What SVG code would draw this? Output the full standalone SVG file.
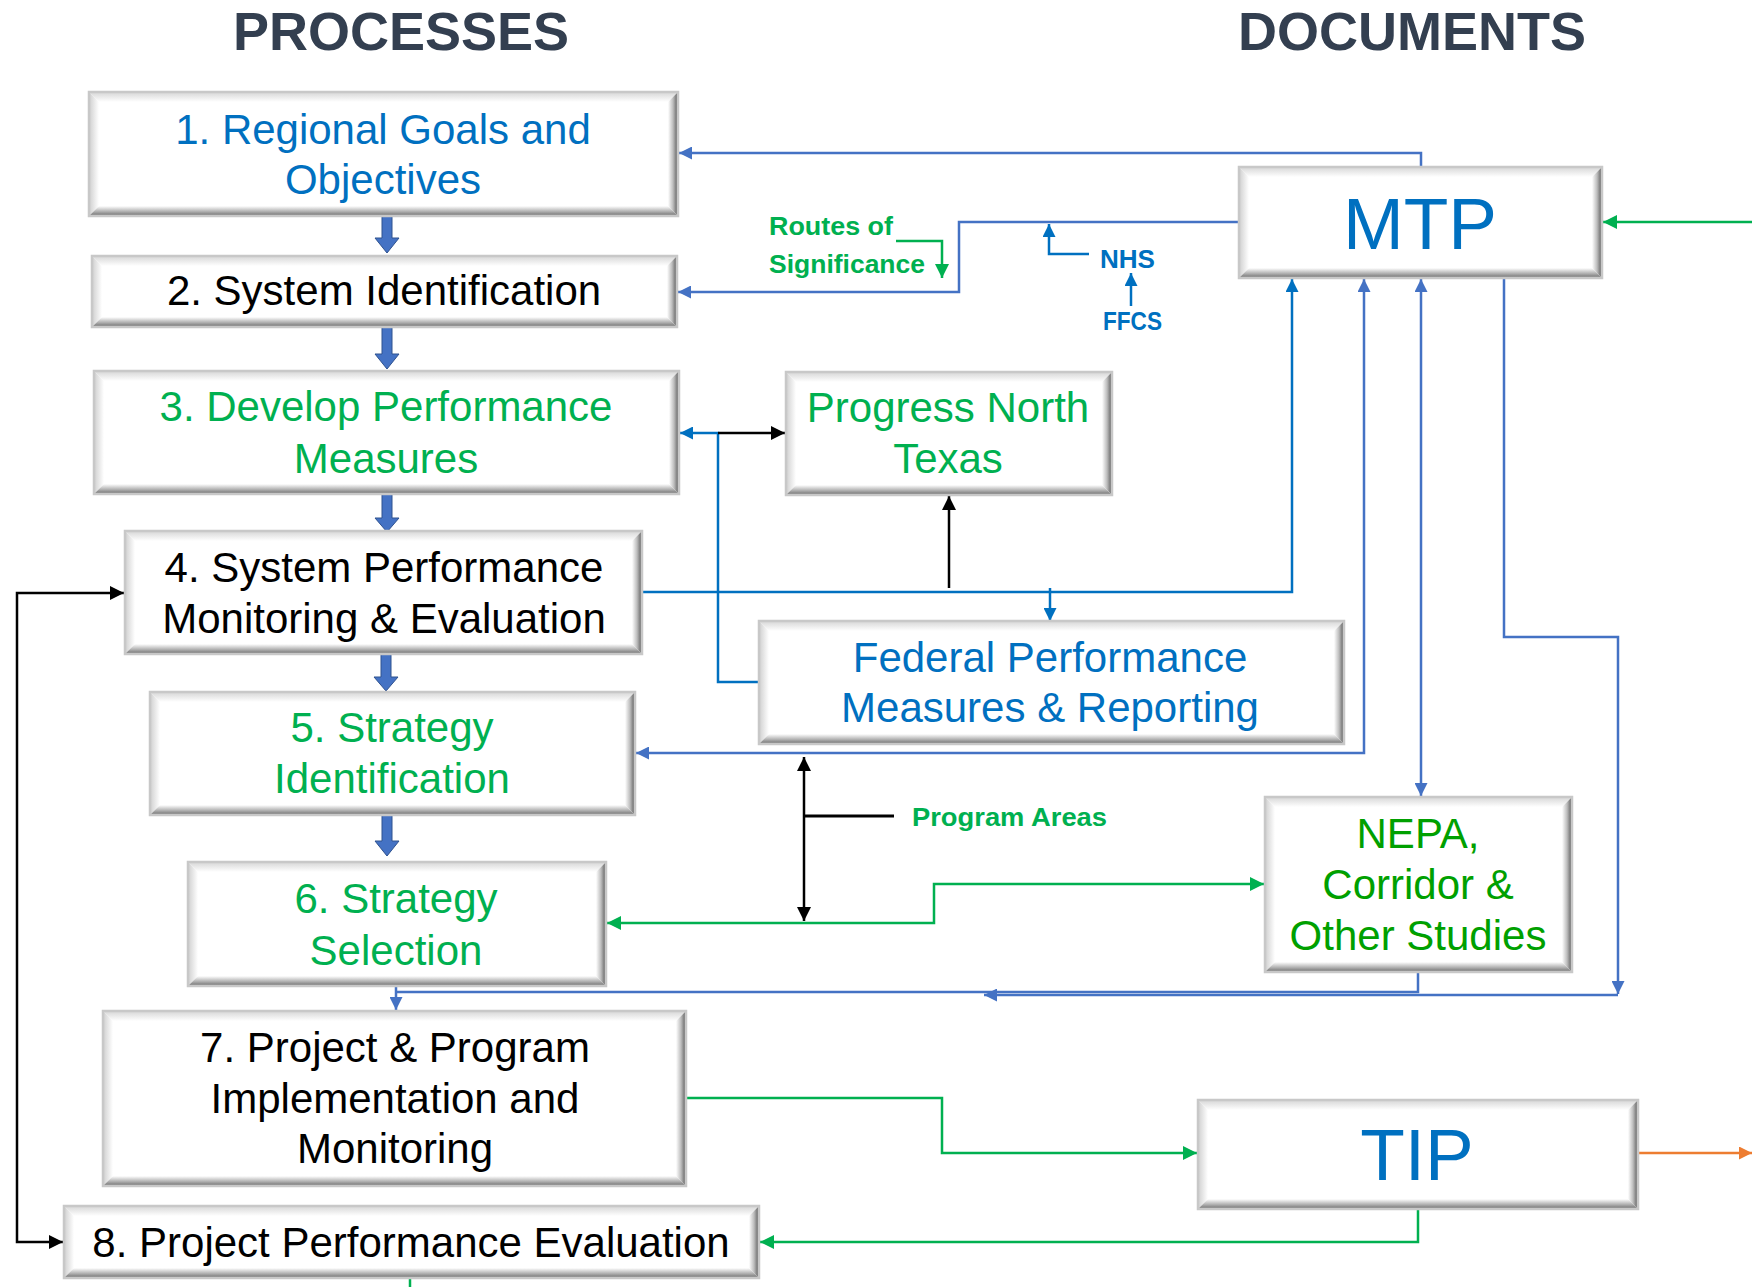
<svg xmlns="http://www.w3.org/2000/svg" width="1752" height="1287" viewBox="0 0 1752 1287">
<defs>
<linearGradient id="gTop" x1="0" y1="0" x2="0" y2="1"><stop offset="0" stop-color="#D6D6D6"/><stop offset="1" stop-color="#FFFFFF"/></linearGradient>
<linearGradient id="gLeft" x1="0" y1="0" x2="1" y2="0"><stop offset="0" stop-color="#CFCFCF"/><stop offset="1" stop-color="#FFFFFF"/></linearGradient>
<linearGradient id="gRight" x1="0" y1="0" x2="1" y2="0"><stop offset="0" stop-color="#FFFFFF"/><stop offset="0.5" stop-color="#BDBDBD"/><stop offset="1" stop-color="#555555"/></linearGradient>
<linearGradient id="gBottom" x1="0" y1="0" x2="0" y2="1"><stop offset="0" stop-color="#FFFFFF"/><stop offset="0.55" stop-color="#B0B0B0"/><stop offset="1" stop-color="#6A6A6A"/></linearGradient>
<marker id="aB" viewBox="0 0 12 12" refX="12" refY="6" markerWidth="13" markerHeight="13" markerUnits="userSpaceOnUse" orient="auto-start-reverse"><path d="M0,0 L12,6 L0,12 z" fill="#4472C4"/></marker>
<marker id="aD" viewBox="0 0 12 12" refX="12" refY="6" markerWidth="13" markerHeight="13" markerUnits="userSpaceOnUse" orient="auto-start-reverse"><path d="M0,0 L12,6 L0,12 z" fill="#0070C0"/></marker>
<marker id="aG" viewBox="0 0 12 12" refX="12" refY="6" markerWidth="14" markerHeight="14" markerUnits="userSpaceOnUse" orient="auto-start-reverse"><path d="M0,0 L12,6 L0,12 z" fill="#00B050"/></marker>
<marker id="aK" viewBox="0 0 12 12" refX="12" refY="6" markerWidth="14" markerHeight="14" markerUnits="userSpaceOnUse" orient="auto-start-reverse"><path d="M0,0 L12,6 L0,12 z" fill="#000000"/></marker>
<marker id="aO" viewBox="0 0 12 12" refX="12" refY="6" markerWidth="13" markerHeight="13" markerUnits="userSpaceOnUse" orient="auto-start-reverse"><path d="M0,0 L12,6 L0,12 z" fill="#ED7D31"/></marker>
</defs>
<style>
.bx{fill:#FFFFFF}
.bt{fill:url(#gTop)}
.bl{fill:url(#gLeft)}
.br{fill:url(#gRight)}
.bb{fill:url(#gBottom)}
.bo{fill:none;stroke:#C8C8C8;stroke-width:2.5}
.t{font-family:"Liberation Sans",Arial,sans-serif;font-size:42px;text-anchor:middle}
.big{font-size:73px}
.ttl{font-family:"Liberation Sans",Arial,sans-serif;font-size:54px;font-weight:bold;fill:#333F50;text-anchor:middle}
.lbl{font-family:"Liberation Sans",Arial,sans-serif;font-size:26px;font-weight:bold}
.blue{fill:#0070C0}
.green{fill:#00B050}
.dgreen{fill:#00A000}
.black{fill:#000000}
.c{fill:none;stroke-width:2.5}
.cB{stroke:#4472C4}
.cD{stroke:#0070C0}
.cG{stroke:#00B050}
.cK{stroke:#000000}
.cO{stroke:#ED7D31}
.blk{fill:#4472C4;stroke:#2F528F;stroke-width:1}
</style>

<text class="ttl" x="401" y="50">PROCESSES</text>
<text class="ttl" x="1412" y="50">DOCUMENTS</text>

<g id="connectors">
<path class="c cB" d="M1421,167 V153 H679" marker-end="url(#aB)"/>
<path class="c cB" d="M1239,222 H959 V292 H678" marker-end="url(#aB)"/>
<path class="c cG" d="M896,241 H942 V278" marker-end="url(#aG)"/>
<path class="c cD" d="M1089,254 H1049 V224" marker-end="url(#aD)"/>
<path class="c cD" d="M1131,306 V273" marker-end="url(#aD)"/>
<path class="c cD" d="M642,592 H1292 V279" marker-end="url(#aD)"/>
<path class="c cD" d="M1050,588 V621" marker-end="url(#aD)"/>
<path class="c cK" d="M949,588 V496" marker-end="url(#aK)"/>
<path class="c cD" d="M759,682 H718 V433 H680" marker-end="url(#aD)"/>
<path class="c cK" d="M718,433 H785" marker-end="url(#aK)"/>
<path class="c cB" d="M1364,279 V753 H636" marker-start="url(#aB)" marker-end="url(#aB)"/>
<path class="c cB" d="M1421,279 V796" marker-start="url(#aB)" marker-end="url(#aB)"/>
<path class="c cB" d="M1504,278 V637 H1618 V994" marker-end="url(#aB)"/>
<path class="c cB" d="M1618,995 H984" marker-end="url(#aB)"/>
<path class="c cB" d="M1418,972 V992 H396"/>
<path class="c cB" d="M396,986 V1010" marker-end="url(#aB)"/>
<path class="c cK" d="M804,757 V921" marker-start="url(#aK)" marker-end="url(#aK)"/>
<path class="c cK" d="M804,816 H894" style="stroke-width:3"/>
<path class="c cG" d="M1264,884 H934 V923 H607" marker-start="url(#aG)" marker-end="url(#aG)"/>
<path class="c cG" d="M686,1098 H942 V1153 H1197" marker-end="url(#aG)"/>
<path class="c cG" d="M1418,1209 V1242 H760" marker-end="url(#aG)"/>
<path class="c cO" d="M1638,1153 H1752" marker-end="url(#aO)"/>
<path class="c cG" d="M1752,222 H1603" marker-end="url(#aG)"/>
<path class="c cK" d="M124,593 H17 V1242 H63" marker-start="url(#aK)" marker-end="url(#aK)"/>
<path class="c cG" d="M410,1278 V1287"/>
<path class="blk" d="M382,215 H392 V238 H399 L387,253 L375,238 H382 Z"/>
<path class="blk" d="M382,327 H392 V354 H399 L387,369 L375,354 H382 Z"/>
<path class="blk" d="M382,494 H392 V518 H399 L387,532 L375,518 H382 Z"/>
<path class="blk" d="M381,654 H391 V677 H398 L386,691 L374,677 H381 Z"/>
<path class="blk" d="M382,815 H392 V841 H399 L387,856 L375,841 H382 Z"/>
</g>

<text class="lbl green" x="769" y="235" textLength="124" lengthAdjust="spacingAndGlyphs">Routes of</text>
<text class="lbl green" x="769" y="273" textLength="156" lengthAdjust="spacingAndGlyphs">Significance</text>
<text class="lbl blue" x="1100" y="268" textLength="55" lengthAdjust="spacingAndGlyphs">NHS</text>
<text class="lbl blue" x="1103" y="330" textLength="59" lengthAdjust="spacingAndGlyphs">FFCS</text>
<text class="lbl green" x="912" y="826" textLength="195" lengthAdjust="spacingAndGlyphs">Program Areas</text>

<g id="n1">
<rect class="bx" x="89" y="92" width="589" height="124"/>
<path class="bt" d="M89,92 h589 l-10,10 h-569 z"/><path class="bl" d="M89,92 l10,10 v104 l-10,10 z"/><path class="br" d="M678,92 v124 l-10,-10 v-104 z"/><path class="bb" d="M89,216 h589 l-10,-10 h-569 z"/>
<rect class="bo" x="89" y="92" width="589" height="124"/>
<text class="t blue" x="383" y="144">1. Regional Goals and</text>
<text class="t blue" x="383" y="194">Objectives</text>
</g>

<g id="n2">
<rect class="bx" x="92" y="256" width="585" height="71"/>
<path class="bt" d="M92,256 h585 l-10,10 h-565 z"/><path class="bl" d="M92,256 l10,10 v51 l-10,10 z"/><path class="br" d="M677,256 v71 l-10,-10 v-51 z"/><path class="bb" d="M92,327 h585 l-10,-10 h-565 z"/>
<rect class="bo" x="92" y="256" width="585" height="71"/>
<text class="t black" x="384" y="305">2. System Identification</text>
</g>

<g id="n3">
<rect class="bx" x="94" y="371" width="585" height="123"/>
<path class="bt" d="M94,371 h585 l-10,10 h-565 z"/><path class="bl" d="M94,371 l10,10 v103 l-10,10 z"/><path class="br" d="M679,371 v123 l-10,-10 v-103 z"/><path class="bb" d="M94,494 h585 l-10,-10 h-565 z"/>
<rect class="bo" x="94" y="371" width="585" height="123"/>
<text class="t green" x="386" y="421">3. Develop Performance</text>
<text class="t green" x="386" y="473">Measures</text>
</g>

<g id="n4">
<rect class="bx" x="125" y="531" width="517" height="123"/>
<path class="bt" d="M125,531 h517 l-10,10 h-497 z"/><path class="bl" d="M125,531 l10,10 v103 l-10,10 z"/><path class="br" d="M642,531 v123 l-10,-10 v-103 z"/><path class="bb" d="M125,654 h517 l-10,-10 h-497 z"/>
<rect class="bo" x="125" y="531" width="517" height="123"/>
<text class="t black" x="384" y="582">4. System Performance</text>
<text class="t black" x="384" y="633">Monitoring &amp; Evaluation</text>
</g>

<g id="n5">
<rect class="bx" x="150" y="692" width="485" height="123"/>
<path class="bt" d="M150,692 h485 l-10,10 h-465 z"/><path class="bl" d="M150,692 l10,10 v103 l-10,10 z"/><path class="br" d="M635,692 v123 l-10,-10 v-103 z"/><path class="bb" d="M150,815 h485 l-10,-10 h-465 z"/>
<rect class="bo" x="150" y="692" width="485" height="123"/>
<text class="t green" x="392" y="742">5. Strategy</text>
<text class="t green" x="392" y="793">Identification</text>
</g>

<g id="n6">
<rect class="bx" x="188" y="862" width="418" height="124"/>
<path class="bt" d="M188,862 h418 l-10,10 h-398 z"/><path class="bl" d="M188,862 l10,10 v104 l-10,10 z"/><path class="br" d="M606,862 v124 l-10,-10 v-104 z"/><path class="bb" d="M188,986 h418 l-10,-10 h-398 z"/>
<rect class="bo" x="188" y="862" width="418" height="124"/>
<text class="t green" x="396" y="913">6. Strategy</text>
<text class="t green" x="396" y="965">Selection</text>
</g>

<g id="n7">
<rect class="bx" x="103" y="1011" width="583" height="175"/>
<path class="bt" d="M103,1011 h583 l-10,10 h-563 z"/><path class="bl" d="M103,1011 l10,10 v155 l-10,10 z"/><path class="br" d="M686,1011 v175 l-10,-10 v-155 z"/><path class="bb" d="M103,1186 h583 l-10,-10 h-563 z"/>
<rect class="bo" x="103" y="1011" width="583" height="175"/>
<text class="t black" x="395" y="1062">7. Project &amp; Program</text>
<text class="t black" x="395" y="1113">Implementation and</text>
<text class="t black" x="395" y="1163">Monitoring</text>
</g>

<g id="n8">
<rect class="bx" x="64" y="1206" width="695" height="72"/>
<path class="bt" d="M64,1206 h695 l-10,10 h-675 z"/><path class="bl" d="M64,1206 l10,10 v52 l-10,10 z"/><path class="br" d="M759,1206 v72 l-10,-10 v-52 z"/><path class="bb" d="M64,1278 h695 l-10,-10 h-675 z"/>
<rect class="bo" x="64" y="1206" width="695" height="72"/>
<text class="t black" x="411" y="1257">8. Project Performance Evaluation</text>
</g>

<g id="pnt">
<rect class="bx" x="786" y="372" width="326" height="123"/>
<path class="bt" d="M786,372 h326 l-10,10 h-306 z"/><path class="bl" d="M786,372 l10,10 v103 l-10,10 z"/><path class="br" d="M1112,372 v123 l-10,-10 v-103 z"/><path class="bb" d="M786,495 h326 l-10,-10 h-306 z"/>
<rect class="bo" x="786" y="372" width="326" height="123"/>
<text class="t green" x="948" y="422">Progress North</text>
<text class="t green" x="948" y="473">Texas</text>
</g>

<g id="mtp">
<rect class="bx" x="1239" y="167" width="363" height="111"/>
<path class="bt" d="M1239,167 h363 l-10,10 h-343 z"/><path class="bl" d="M1239,167 l10,10 v91 l-10,10 z"/><path class="br" d="M1602,167 v111 l-10,-10 v-91 z"/><path class="bb" d="M1239,278 h363 l-10,-10 h-343 z"/>
<rect class="bo" x="1239" y="167" width="363" height="111"/>
<text class="t big blue" x="1420" y="249">MTP</text>
</g>

<g id="fed">
<rect class="bx" x="759" y="621" width="585" height="123"/>
<path class="bt" d="M759,621 h585 l-10,10 h-565 z"/><path class="bl" d="M759,621 l10,10 v103 l-10,10 z"/><path class="br" d="M1344,621 v123 l-10,-10 v-103 z"/><path class="bb" d="M759,744 h585 l-10,-10 h-565 z"/>
<rect class="bo" x="759" y="621" width="585" height="123"/>
<text class="t blue" x="1050" y="672">Federal Performance</text>
<text class="t blue" x="1050" y="722">Measures &amp; Reporting</text>
</g>

<g id="nepa">
<rect class="bx" x="1265" y="797" width="307" height="175"/>
<path class="bt" d="M1265,797 h307 l-10,10 h-287 z"/><path class="bl" d="M1265,797 l10,10 v155 l-10,10 z"/><path class="br" d="M1572,797 v175 l-10,-10 v-155 z"/><path class="bb" d="M1265,972 h307 l-10,-10 h-287 z"/>
<rect class="bo" x="1265" y="797" width="307" height="175"/>
<text class="t dgreen" x="1418" y="848">NEPA,</text>
<text class="t dgreen" x="1418" y="899">Corridor &amp;</text>
<text class="t dgreen" x="1418" y="950">Other Studies</text>
</g>

<g id="tip">
<rect class="bx" x="1198" y="1100" width="440" height="109"/>
<path class="bt" d="M1198,1100 h440 l-10,10 h-420 z"/><path class="bl" d="M1198,1100 l10,10 v89 l-10,10 z"/><path class="br" d="M1638,1100 v109 l-10,-10 v-89 z"/><path class="bb" d="M1198,1209 h440 l-10,-10 h-420 z"/>
<rect class="bo" x="1198" y="1100" width="440" height="109"/>
<text class="t big blue" x="1417" y="1180">TIP</text>
</g>
</svg>
